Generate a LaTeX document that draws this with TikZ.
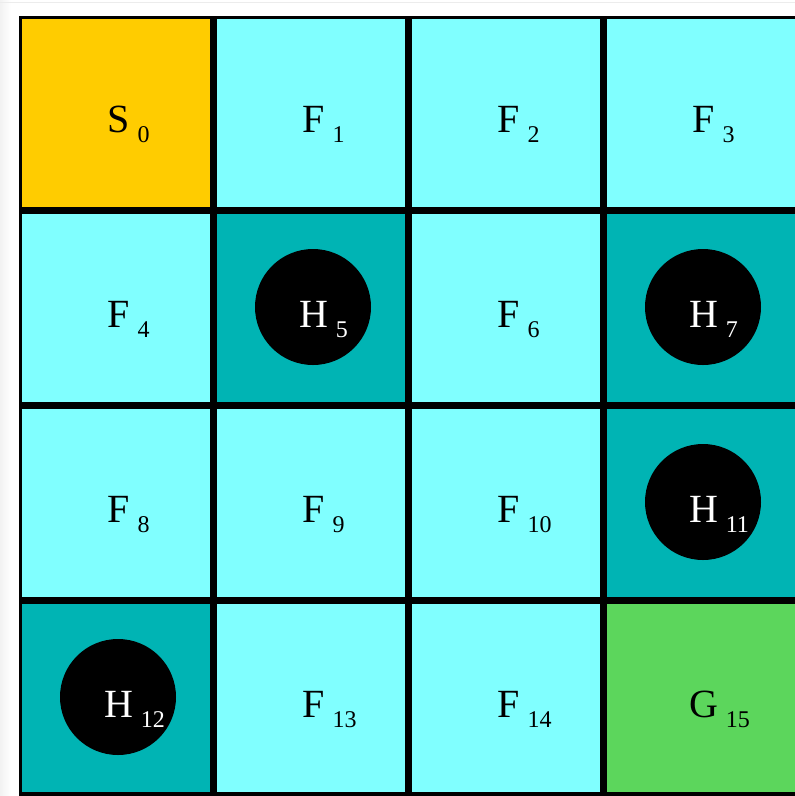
\documentclass[tikz,border=0pt]{standalone}
\usepackage{fontspec}
\setmainfont{Liberation Serif}
\definecolor{startc}{HTML}{FFCC00}
\definecolor{frozen}{HTML}{80FFFF}
\definecolor{holec}{HTML}{00B4B4}
\definecolor{goalc}{HTML}{5CD65C}
\definecolor{shadowc}{HTML}{F2F2F2}
\tikzset{
  cell/.style={draw=black,line width=3.5pt,minimum width=191.5pt,minimum height=191.5pt,inner sep=0pt},
  hole/.style={circle,fill=black,minimum size=116pt,inner sep=0pt},
  letter/.style={anchor=base,inner sep=0pt,font=\fontsize{40}{40}\selectfont},
  subs/.style={anchor=base west,inner sep=0pt,font=\fontsize{24}{24}\selectfont}
}
\begin{document}
\begin{tikzpicture}[x=1pt,y=-1pt]
\useasboundingbox (0,0) rectangle (795,796);
\clip (0,0) rectangle (795,796);
\fill[white] (0,0) rectangle (795,796);
\shade[left color=shadowc,right color=white] (0,0) rectangle (11,796);
\fill[gray!15] (0,1.8) rectangle (795,3.2);
\foreach \i/\L/\f/\tc in {0/S/startc/black,1/F/frozen/black,2/F/frozen/black,3/F/frozen/black,
  4/F/frozen/black,5/H/holec/white,6/F/frozen/black,7/H/holec/white,
  8/F/frozen/black,9/F/frozen/black,10/F/frozen/black,11/H/holec/white,
  12/H/holec/white,13/F/frozen/black,14/F/frozen/black,15/G/goalc/black}{
  \pgfmathtruncatemacro\cc{mod(\i,4)}
  \pgfmathtruncatemacro\rr{div(\i,4)}
  \node[cell,fill=\f] (c\i) at ({116+195*\cc},{113+195*\rr}) {};
}
\foreach \i in {5,7,11,12}{
  \node[hole] (h\i) at ([xshift=2pt,yshift=1pt]c\i.center) {};
}
\foreach \i/\L/\tc in {0/S/black,1/F/black,2/F/black,3/F/black,
  4/F/black,5/H/white,6/F/black,7/H/white,
  8/F/black,9/F/black,10/F/black,11/H/white,
  12/H/white,13/F/black,14/F/black,15/G/black}{
  \node[letter,text=\tc] (t\i) at ([xshift=2.5pt,yshift=-19pt]c\i.center) {\L};
  \node[subs,text=\tc] (s\i) at ([xshift=7.5pt,yshift=-10pt]t\i.base east) {\i};
}
\end{tikzpicture}
\end{document}
